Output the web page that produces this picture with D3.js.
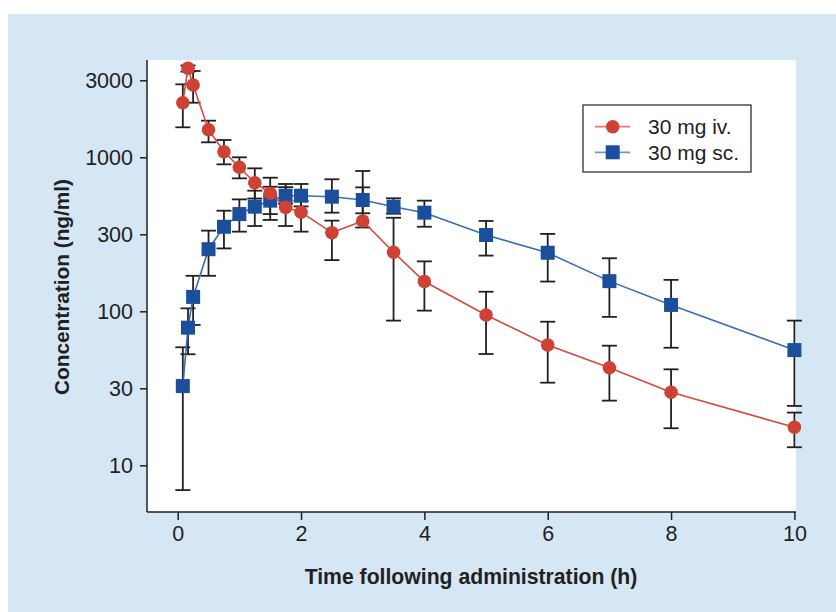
<!DOCTYPE html>
<html>
<head>
<meta charset="utf-8">
<script src="https://cdn.jsdelivr.net/npm/d3@7"></script>
<style>
  body { margin: 0; background: #fff; }
  text { font-family: "Liberation Sans", Arial, sans-serif; fill: #231f20; }
</style>
</head>
<body>
<div id="chart"></div>
<script>
// data (ng/ml, mean with error bar low/high)
var times = [0.083, 0.167, 0.25, 0.5, 0.75, 1, 1.25, 1.5, 1.75, 2, 2.5, 3, 3.5, 4, 5, 6, 7, 8, 10];

var ivMean = [2262, 3784, 2948, 1511, 1087, 861, 684, 584, 473, 440, 324, 386, 242, 156, 94.6, 60.4, 43, 29.8, 17.65];
var ivLow  = [1566, 3600, 2262, 1251, 900, 730, 540, 428, 358, 329, 215, 350, 87, 101, 52.8, 34.4, 26.3, 17.4, 13.1];
var ivHigh = [2978, 3950, 3634, 1729, 1295, 1000, 848, 644, 671, 520, 388, 638, 405, 211, 134, 85.6, 59.8, 42, 22];

var scMean = [32.7, 78.3, 124, 253, 354, 428, 478, 523, 563, 563, 555, 528, 478, 437, 313, 240, 157, 110, 56];
var scLow  = [6.9, 52.6, 81.5, 170, 256, 329, 358, 392, 500, 480, 437, 433, 430, 354, 230, 156, 92, 58, 24.3];
var scHigh = [58.4, 104.5, 170, 334, 450, 533, 607, 737, 640, 671, 720, 815, 542, 523, 386, 318, 221, 160, 87];

var xTicks = [0, 2, 4, 6, 8, 10];
var yTicks = [10, 31.62, 100, 316.2, 1000, 3162];
var yTickLabels = ["10", "30", "100", "300", "1000", "3000"];

var seriesNames = ["30 mg iv.", "30 mg sc."];

var svgWidth = 836;
var svgHeight = 612;

var plot = { left: 147, right: 796, top: 60, bottom: 512 };

var svg = d3.select("#chart")
  .append("svg")
  .attr("width", svgWidth)
  .attr("height", svgHeight);

// light blue panel + white plot area
svg.append("rect")
  .attr("x", 8).attr("y", 14)
  .attr("width", svgWidth - 8).attr("height", svgHeight - 14)
  .attr("fill", "#d5e6f4");

svg.append("rect")
  .attr("x", plot.left).attr("y", plot.top)
  .attr("width", plot.right - plot.left).attr("height", plot.bottom - plot.top)
  .attr("fill", "#fff");

// scales
var xScale = d3.scaleLinear().domain([0, 10]).range([177.7, 794.4]);
var yScale = d3.scaleLog().domain([10, 10000]).range([465.3, 3.3]);

// axes
var bottomAxis = d3.axisBottom(xScale).tickValues(xTicks).tickSize(8).tickPadding(6).tickFormat(d3.format("d"));
var leftAxis = d3.axisLeft(yScale).tickValues(yTicks).tickSize(7).tickPadding(7)
  .tickFormat(function(d, i) { return yTickLabels[i]; });

var xAxisG = svg.append("g")
  .attr("transform", `translate(0, ${plot.bottom})`)
  .call(bottomAxis);
xAxisG.select(".domain").attr("d", `M${plot.left},0H${plot.right}`);

var yAxisG = svg.append("g")
  .attr("transform", `translate(${plot.left}, 0)`)
  .call(leftAxis);
yAxisG.select(".domain").attr("d", `M0,${plot.top}V${plot.bottom}`);

[xAxisG, yAxisG].forEach(function(g) {
  g.selectAll("path, line").attr("stroke", "#231f20").attr("stroke-width", 1.5);
  g.selectAll("text").attr("font-size", "21.5px").attr("fill", "#231f20")
    .style("font-family", "'Liberation Sans', Arial, sans-serif");
});

// axis titles
svg.append("text")
  .attr("x", 471).attr("y", 584)
  .attr("text-anchor", "middle")
  .attr("font-size", "21.2px")
  .attr("font-weight", "bold")
  .text("Time following administration (h)");

svg.append("text")
  .attr("transform", "translate(69, 287) rotate(-90)")
  .attr("text-anchor", "middle")
  .attr("font-size", "20.8px")
  .attr("font-weight", "bold")
  .text("Concentration (ng/ml)");

// build rows for each series
function rows(mean, low, high) {
  return times.map(function(t, i) {
    return { t: t, v: mean[i], lo: low[i], hi: high[i] };
  });
}
var ivData = rows(ivMean, ivLow, ivHigh);
var scData = rows(scMean, scLow, scHigh);

// error bars first
var errG = svg.append("g").attr("stroke", "#231f20").attr("stroke-width", 1.8).attr("fill", "none");
[scData, ivData].forEach(function(data) {
  data.forEach(function(d) {
    var x = xScale(d.t);
    errG.append("line").attr("x1", x).attr("x2", x).attr("y1", yScale(d.lo)).attr("y2", yScale(d.hi));
    errG.append("line").attr("x1", x - 7.5).attr("x2", x + 7.5).attr("y1", yScale(d.lo)).attr("y2", yScale(d.lo));
    errG.append("line").attr("x1", x - 7.5).attr("x2", x + 7.5).attr("y1", yScale(d.hi)).attr("y2", yScale(d.hi));
  });
});

var line = d3.line()
  .x(d => xScale(d.t))
  .y(d => yScale(d.v));

var blueLine = "#3a6db5", blueMark = "#1c4f9b";
var redLine = "#d6493d", redMark = "#cf4134";

// sc series (squares)
svg.append("path").datum(scData)
  .attr("d", line).attr("fill", "none")
  .attr("stroke", blueLine).attr("stroke-width", 1.6);
svg.append("g").selectAll("rect").data(scData)
  .enter().append("rect")
  .attr("x", d => xScale(d.t) - 7)
  .attr("y", d => yScale(d.v) - 7)
  .attr("width", 14).attr("height", 14)
  .attr("fill", blueMark);

// iv series (circles)
svg.append("path").datum(ivData)
  .attr("d", line).attr("fill", "none")
  .attr("stroke", redLine).attr("stroke-width", 1.6);
svg.append("g").selectAll("circle").data(ivData)
  .enter().append("circle")
  .attr("cx", d => xScale(d.t))
  .attr("cy", d => yScale(d.v))
  .attr("r", 6.8)
  .attr("fill", redMark);

// legend
var legend = svg.append("g").attr("transform", "translate(583, 105)");
legend.append("rect")
  .attr("width", 168).attr("height", 67)
  .attr("fill", "#fff").attr("stroke", "#231f20").attr("stroke-width", 1.2);

var legendItems = [
  { name: seriesNames[0], line: "#e07a70", mark: redMark, shape: "circle" },
  { name: seriesNames[1], line: "#6f94cc", mark: blueMark, shape: "square" }
];
legendItems.forEach(function(item, i) {
  var y = 21.7 + i * 25.6;
  legend.append("line")
    .attr("x1", 12).attr("x2", 47).attr("y1", y).attr("y2", y)
    .attr("stroke", item.line).attr("stroke-width", 1.8);
  if (item.shape === "circle") {
    legend.append("circle").attr("cx", 29.7).attr("cy", y).attr("r", 6.8).attr("fill", item.mark);
  } else {
    legend.append("rect").attr("x", 22.7).attr("y", y - 7).attr("width", 14).attr("height", 14).attr("fill", item.mark);
  }
  legend.append("text")
    .attr("x", 65).attr("y", y + 7.5)
    .attr("font-size", "21px")
    .text(item.name);
});
</script>
</body>
</html>
